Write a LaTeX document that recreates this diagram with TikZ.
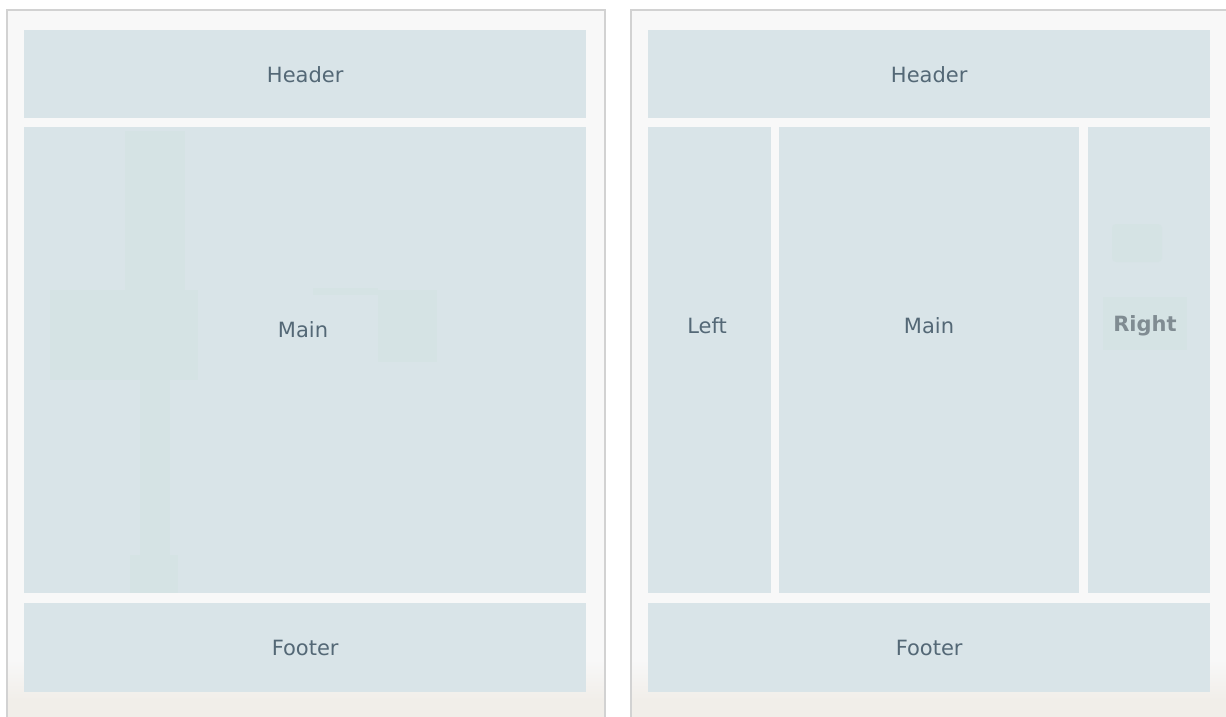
\documentclass[tikz,border=0pt]{standalone}
\usepackage{fontspec}
\setmainfont{DejaVu Sans}
\usepackage{tikz}
\definecolor{cBlock}{RGB}{217, 228, 232}
\definecolor{cGhost}{RGB}{213, 227, 228}
\definecolor{cPanel}{RGB}{248, 248, 248}
\definecolor{cFrame}{RGB}{210, 210, 210}
\definecolor{cBeige}{RGB}{241, 238, 233}
\definecolor{cText}{RGB}{84, 104, 118}
\definecolor{cTextR}{RGB}{128, 140, 146}

\tikzset{
  block/.style={fill=cBlock, inner sep=0pt, anchor=north west},
  lbl/.style={text=cText, font=\fontsize{21}{24}\selectfont},
}

\begin{document}
\begin{tikzpicture}[x=1pt, y=-1pt]

  \useasboundingbox[fill=white] (0,0) rectangle (1226,717);

  % ---- panels ----
  \foreach \px/\qx in {7/605, 631/1229}{
    \fill[cPanel] (\px,10) rectangle (\qx,717);
    \shade[top color=cPanel, bottom color=cBeige] (\px,660) rectangle (\qx,700);
    \fill[cBeige] (\px,700) rectangle (\qx,717);
    \draw[cFrame, line width=1.2pt] (\px,717) -- (\px,10) -- (\qx,10) -- (\qx,717);
  }

  % ---- left layout: header / main / footer ----
  \node[block, minimum width=562pt, minimum height=88pt] (lhead) at (24,30) {};
  \node[block, minimum width=562pt, minimum height=466pt] (lmain) at (24,127) {};
  \node[block, minimum width=562pt, minimum height=89pt] (lfoot) at (24,603) {};

  % faint shapes inside main
  \fill[cGhost] (125,131) rectangle (185,290);
  \fill[cGhost] (50,290) rectangle (198,380);
  \fill[cGhost] (140,380) rectangle (170,555);
  \fill[cGhost] (130,555) rectangle (178,593);
  \fill[cGhost] (378,290) rectangle (437,362);
  \fill[cGhost] (313,288) rectangle (378,295);

  \node[lbl] (lheadtxt) at (lhead.center) {Header};
  \node[lbl] (lmaintxt) at (303,330) {Main};
  \node[lbl] (lfoottxt) at (lfoot.center) {Footer};

  % ---- right layout: header / left / main / right / footer ----
  \node[block, minimum width=562pt, minimum height=88pt] (rhead) at (648,30) {};
  \node[block, minimum width=123pt, minimum height=466pt] (rleft) at (648,127) {};
  \node[block, minimum width=300pt, minimum height=466pt] (rmain) at (779,127) {};
  \node[block, minimum width=122pt, minimum height=466pt] (rright) at (1088,127) {};
  \node[block, minimum width=562pt, minimum height=89pt] (rfoot) at (648,603) {};

  % faint shapes inside right column
  \fill[cGhost, rounded corners=4pt] (1112,224) rectangle (1162,262);
  \fill[cGhost] (1103,297) rectangle (1187,350);

  \node[lbl] (rheadtxt) at (rhead.center) {Header};
  \node[lbl] (rlefttxt) at (707,326) {Left};
  \node[lbl] (rmaintxt) at (929,326) {Main};
  \node[lbl, text=cTextR, font=\fontsize{21}{24}\selectfont\bfseries] (rrighttxt) at (1145,326) {Right};
  \node[lbl] (rfoottxt) at (rfoot.center) {Footer};

\end{tikzpicture}
\end{document}
